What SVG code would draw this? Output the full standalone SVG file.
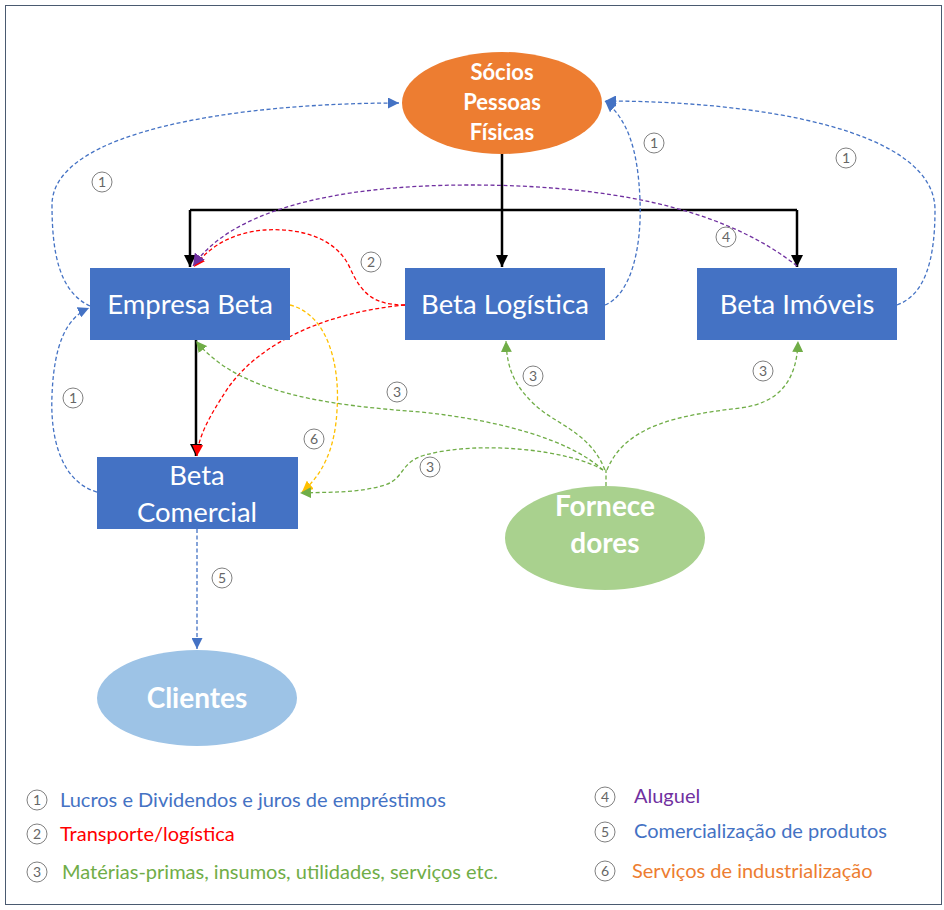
<svg xmlns="http://www.w3.org/2000/svg" width="944" height="910" viewBox="0 0 944 910">
<style>
.box{fill:#4472c4}
.bt{fill:#fff;font-family:Lato,"Liberation Sans",sans-serif;font-size:27.5px;text-anchor:middle}
.et{fill:#fff;font-family:Lato,"Liberation Sans",sans-serif;font-weight:bold;text-anchor:middle}
.c{fill:none;stroke-width:1.3;stroke-dasharray:4 2.5}
.blue{stroke:#4472c4}
.red{stroke:#ff0000}
.grn{stroke:#70ad47}
.yel{stroke:#ffc000}
.pur{stroke:#7030a0}
.blk{fill:none;stroke:#000;stroke-width:2.5}
.nc{fill:#fff;stroke:#808080;stroke-width:1}
.nt{fill:#666;font-family:Lato,"Liberation Sans",sans-serif;font-size:14px;text-anchor:middle}
.lg{font-family:Lato,"Liberation Sans",sans-serif;font-size:20px}
</style>
<defs>
<marker id="mBlue" markerUnits="userSpaceOnUse" markerWidth="11" markerHeight="11" refX="10" refY="5" orient="auto" viewBox="0 0 10 10"><path d="M0,0 L10,5 L0,10 z" fill="#4472c4"/></marker>
<marker id="mRed" markerUnits="userSpaceOnUse" markerWidth="11" markerHeight="11" refX="10" refY="5" orient="auto" viewBox="0 0 10 10"><path d="M0,0 L10,5 L0,10 z" fill="#ff0000"/></marker>
<marker id="mGrn" markerUnits="userSpaceOnUse" markerWidth="11" markerHeight="11" refX="10" refY="5" orient="auto" viewBox="0 0 10 10"><path d="M0,0 L10,5 L0,10 z" fill="#70ad47"/></marker>
<marker id="mYel" markerUnits="userSpaceOnUse" markerWidth="11" markerHeight="11" refX="10" refY="5" orient="auto" viewBox="0 0 10 10"><path d="M0,0 L10,5 L0,10 z" fill="#ffc000"/></marker>
<marker id="mPur" markerUnits="userSpaceOnUse" markerWidth="12" markerHeight="12" refX="10" refY="5" orient="auto" viewBox="0 0 10 10"><path d="M0,0 L10,5 L0,10 z" fill="#7030a0"/></marker>
<marker id="mBlk" markerUnits="userSpaceOnUse" markerWidth="12" markerHeight="12" refX="10" refY="5" orient="auto" viewBox="0 0 10 10"><path d="M0,0 L10,5 L0,10 z" fill="#000"/></marker>
</defs>
<rect x="0" y="0" width="944" height="910" fill="#fff"/>
<rect x="5.5" y="5.5" width="936" height="899" fill="none" stroke="#4a5a70" stroke-width="1"/>

<g id="connectors">
<path class="blk" d="M502 153 V210 M190 210 H797"/>
<path class="blk" d="M190 210 V267" marker-end="url(#mBlk)"/>
<path class="blk" d="M502 210 V267" marker-end="url(#mBlk)"/>
<path class="blk" d="M797 210 V267" marker-end="url(#mBlk)"/>
<path class="blk" d="M196 340 V456" marker-end="url(#mBlk)"/>

<path class="c blue" d="M90 306 C60 292 52 255 52 205 C52 130 240 103 399 103" marker-end="url(#mBlue)"/>
<path class="c blue" d="M97 492 C62 482 50 440 52 395 C54 345 66 318 89 308" marker-end="url(#mBlue)"/>
<path class="c blue" d="M605 305 C630 295 642 250 640 200 C638 150 628 120 605 101" marker-end="url(#mBlue)"/>
<path class="c blue" d="M897 305 C925 295 935 260 935 210 C935 130 760 101 605 101" marker-end="url(#mBlue)"/>
<path class="c blue" d="M197 529 V649" marker-end="url(#mBlue)"/>

<path class="c red" d="M405 305 C375 305 362 295 350 268 C335 235 295 228 265 230 C235 232 210 245 194 267" marker-end="url(#mRed)"/>
<path class="c red" d="M405 305 C330 312 262 340 228 388 C208 418 198 438 197 456" marker-end="url(#mRed)"/>

<path class="c pur" d="M797 266 C720 205 600 185 470 185 C330 185 230 212 193 266" marker-end="url(#mPur)"/>

<path class="c yel" d="M290 305 C330 315 340 370 337 410 C335 450 322 475 302 492" marker-end="url(#mYel)"/>

<path class="c grn" d="M606 486 V470"/>
<path class="c grn" d="M605 470 C590 432 555 424 535 405 C515 386 507 370 506 341" marker-end="url(#mGrn)"/>
<path class="c grn" d="M607 470 C625 425 680 415 740 408 C780 403 797 380 798 341" marker-end="url(#mGrn)"/>
<path class="c grn" d="M603 470 C570 440 500 420 420 412 C330 405 240 395 196 341" marker-end="url(#mGrn)"/>
<path class="c grn" d="M603 470 C570 450 480 440 425 455 C400 462 405 478 385 485 C360 493 330 492 300 493" marker-end="url(#mGrn)"/>
</g>

<g id="labels">
<g><circle class="nc" cx="102" cy="182" r="10"/><text class="nt" x="102" y="187">1</text></g>
<g><circle class="nc" cx="654" cy="143" r="10"/><text class="nt" x="654" y="148">1</text></g>
<g><circle class="nc" cx="846" cy="158" r="10"/><text class="nt" x="846" y="163">1</text></g>
<g><circle class="nc" cx="73" cy="398" r="10"/><text class="nt" x="73" y="403">1</text></g>
<g><circle class="nc" cx="371" cy="262" r="10"/><text class="nt" x="371" y="267">2</text></g>
<g><circle class="nc" cx="726" cy="237" r="10"/><text class="nt" x="726" y="242">4</text></g>
<g><circle class="nc" cx="314" cy="439" r="10"/><text class="nt" x="314" y="444">6</text></g>
<g><circle class="nc" cx="533" cy="376" r="10"/><text class="nt" x="533" y="381">3</text></g>
<g><circle class="nc" cx="763" cy="371" r="10"/><text class="nt" x="763" y="376">3</text></g>
<g><circle class="nc" cx="397" cy="392" r="10"/><text class="nt" x="397" y="397">3</text></g>
<g><circle class="nc" cx="430" cy="467" r="10"/><text class="nt" x="430" y="472">3</text></g>
<g><circle class="nc" cx="222" cy="578" r="10"/><text class="nt" x="222" y="583">5</text></g>
</g>

<g id="socios">
<ellipse cx="502" cy="103" rx="100" ry="51" fill="#ed7d31"/>
<text class="et" x="502" y="80" font-size="22">Sócios</text>
<text class="et" x="502" y="110" font-size="22">Pessoas</text>
<text class="et" x="502" y="140" font-size="22">Físicas</text>
</g>
<g id="empresa-beta">
<rect class="box" x="90" y="268" width="200" height="72"/>
<text class="bt" x="190" y="314">Empresa Beta</text>
</g>
<g id="beta-logistica">
<rect class="box" x="405" y="268" width="200" height="72"/>
<text class="bt" x="505" y="314">Beta Logística</text>
</g>
<g id="beta-imoveis">
<rect class="box" x="697" y="268" width="200" height="72"/>
<text class="bt" x="797" y="314">Beta Imóveis</text>
</g>
<g id="beta-comercial">
<rect class="box" x="97" y="457" width="201" height="72"/>
<text class="bt" x="197" y="485">Beta</text>
<text class="bt" x="197" y="522">Comercial</text>
</g>
<g id="fornecedores">
<ellipse cx="605" cy="538" rx="100" ry="52" fill="#a9d18e"/>
<text class="et" x="605" y="516" font-size="28">Fornece</text>
<text class="et" x="605" y="553" font-size="28">dores</text>
</g>
<g id="clientes">
<ellipse cx="197" cy="698" rx="100" ry="48" fill="#9dc3e6"/>
<text class="et" x="197" y="708" font-size="28">Clientes</text>
</g>

<g id="legend">
<g><circle class="nc" cx="37" cy="800" r="10"/><text class="nt" x="37" y="805">1</text><text class="lg" x="60" y="807" fill="#4472c4">Lucros e Dividendos e juros de empréstimos</text></g>
<g><circle class="nc" cx="37" cy="834" r="10"/><text class="nt" x="37" y="839">2</text><text class="lg" x="60" y="841" fill="#ff0000">Transporte/logística</text></g>
<g><circle class="nc" cx="37" cy="872" r="10"/><text class="nt" x="37" y="877">3</text><text class="lg" x="62" y="879" fill="#70ad47">Matérias-primas, insumos, utilidades, serviços etc.</text></g>
<g><circle class="nc" cx="605" cy="797" r="10"/><text class="nt" x="605" y="802">4</text><text class="lg" x="634" y="803" fill="#7030a0">Aluguel</text></g>
<g><circle class="nc" cx="605" cy="832" r="10"/><text class="nt" x="605" y="837">5</text><text class="lg" x="634" y="838" fill="#4472c4">Comercialização de produtos</text></g>
<g><circle class="nc" cx="605" cy="871" r="10"/><text class="nt" x="605" y="876">6</text><text class="lg" x="632" y="878" fill="#ed7d31">Serviços de industrialização</text></g>
</g>
</svg>
